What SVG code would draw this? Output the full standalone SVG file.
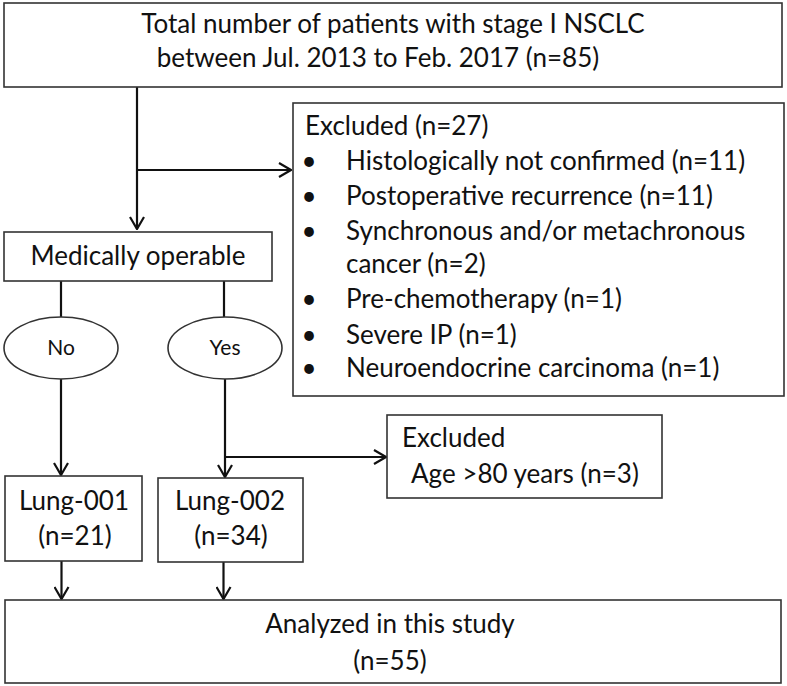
<svg xmlns="http://www.w3.org/2000/svg" width="787" height="686" viewBox="0 0 787 686">
<style>
.box{fill:#fff;stroke:#333;stroke-width:1.6}
.t{font-family:Lato,"Open Sans",sans-serif;font-size:26px;fill:#111}
.c{text-anchor:middle}
.s{font-size:21px}
.con{fill:none;stroke:#111;stroke-width:2.2}
</style>
<defs>
<marker id="ah" viewBox="0 0 14 16" refX="13" refY="8" markerWidth="14" markerHeight="16" markerUnits="userSpaceOnUse" orient="auto">
<path d="M1,1 L13,8 L1,15" fill="none" stroke="#111" stroke-width="2.2"/>
</marker>
</defs>
<g id="connectors">
<path class="con" d="M137,87 V229" marker-end="url(#ah)"/>
<path class="con" d="M137,170 H291" marker-end="url(#ah)"/>
<path class="con" d="M61,281 V317"/>
<path class="con" d="M224,281 V317"/>
<path class="con" d="M61,379 V475" marker-end="url(#ah)"/>
<path class="con" d="M225,379 V477" marker-end="url(#ah)"/>
<path class="con" d="M225,457 H386" marker-end="url(#ah)"/>
<path class="con" d="M61.5,561 V599" marker-end="url(#ah)"/>
<path class="con" d="M223.5,562 V599" marker-end="url(#ah)"/>
</g>
<g id="top">
<rect class="box" x="4" y="3" width="778" height="84"/>
<text class="t c" x="393" y="33">Total number of patients with stage I NSCLC</text>
<text class="t c" x="378" y="67">between Jul. 2013 to Feb. 2017 (n=85)</text>
</g>
<g id="excluded1">
<rect class="box" x="293" y="103" width="491" height="293"/>
<text class="t" x="305" y="135">Excluded (n=27)</text>
<g class="t">
<text x="309" y="170" class="c">•</text><text x="346" y="170">Histologically not confirmed (n=11)</text>
<text x="309" y="205" class="c">•</text><text x="346" y="205">Postoperative recurrence (n=11)</text>
<text x="309" y="240" class="c">•</text><text x="346" y="240">Synchronous and/or metachronous</text>
<text x="346" y="273">cancer (n=2)</text>
<text x="309" y="308" class="c">•</text><text x="346" y="308">Pre-chemotherapy (n=1)</text>
<text x="309" y="344" class="c">•</text><text x="346" y="344">Severe IP (n=1)</text>
<text x="309" y="377" class="c">•</text><text x="346" y="377">Neuroendocrine carcinoma (n=1)</text>
</g>
</g>
<g id="operable">
<rect class="box" x="4" y="232" width="268" height="49"/>
<text class="t c" x="138" y="265">Medically operable</text>
</g>
<g id="no">
<ellipse class="box" cx="61" cy="348" rx="57" ry="31"/>
<text class="t c s" x="61" y="355">No</text>
</g>
<g id="yes">
<ellipse class="box" cx="225" cy="348" rx="57" ry="31"/>
<text class="t c s" x="225" y="355">Yes</text>
</g>
<g id="excluded2">
<rect class="box" x="387" y="415" width="275" height="83"/>
<text class="t" x="402" y="447">Excluded</text>
<text class="t" x="411" y="483">Age &gt;80 years (n=3)</text>
</g>
<g id="lung001">
<rect class="box" x="5" y="476" width="137" height="85"/>
<text class="t c" x="74" y="510">Lung-001</text>
<text class="t c" x="75" y="545">(n=21)</text>
</g>
<g id="lung002">
<rect class="box" x="158" y="478" width="145" height="84"/>
<text class="t c" x="230" y="510">Lung-002</text>
<text class="t c" x="231" y="545">(n=34)</text>
</g>
<g id="analyzed">
<rect class="box" x="5" y="600" width="776" height="83"/>
<text class="t c" x="390" y="633">Analyzed in this study</text>
<text class="t c" x="390" y="670">(n=55)</text>
</g>
</svg>
